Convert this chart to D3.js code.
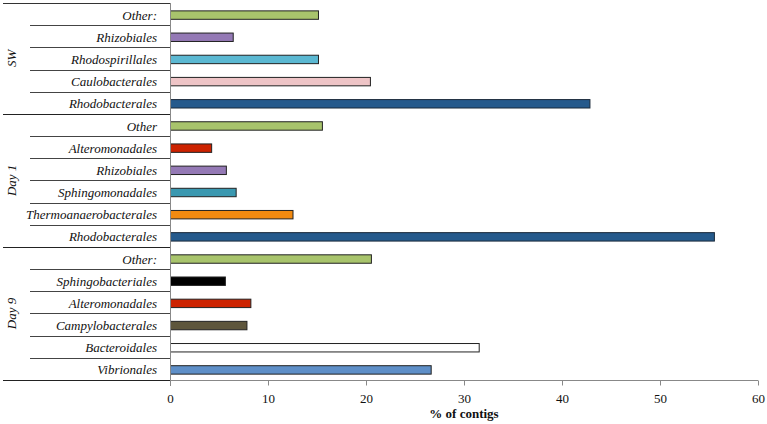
<!DOCTYPE html>
<html>
<head>
<meta charset="utf-8">
<script src="https://cdn.jsdelivr.net/npm/d3@7"></script>
<style>
  body { margin: 0; background: #fff; }
  svg { display: block; }
  text { font-family: "Liberation Serif", "DejaVu Serif", serif; }
</style>
</head>
<body>
<svg id="chart" width="767" height="424"></svg>
<script>
// ---- data ----
const groups = ["SW", "Day 1", "Day 9"];
const swCategories = ["Other:", "Rhizobiales", "Rhodospirillales", "Caulobacterales", "Rhodobacterales"];
const swValues = [15.1, 6.4, 15.1, 20.4, 42.8];
const day1Categories = ["Other", "Alteromonadales", "Rhizobiales", "Sphingomonadales", "Thermoanaerobacterales", "Rhodobacterales"];
const day1Values = [15.5, 4.2, 5.7, 6.7, 12.5, 55.5];
const day9Categories = ["Other:", "Sphingobacteriales", "Alteromonadales", "Campylobacterales", "Bacteroidales", "Vibrionales"];
const day9Values = [20.5, 5.6, 8.2, 7.8, 31.5, 26.6];
const xTicks = [0, 10, 20, 30, 40, 50, 60];
const xTitle = "% of contigs";

// colours per taxon (styling)
const colorOf = {
  "Other": "#A8C46C", "Other:": "#A8C46C",
  "Rhizobiales": "#9479B5",
  "Rhodospirillales": "#5BB8D2",
  "Caulobacterales": "#EEC4C6",
  "Rhodobacterales": "#255A8C",
  "Alteromonadales": "#CC2200",
  "Sphingomonadales": "#3A98B0",
  "Thermoanaerobacterales": "#F28A10",
  "Sphingobacteriales": "#000000",
  "Campylobacterales": "#5E563C",
  "Bacteroidales": "#FFFFFF",
  "Vibrionales": "#5E8FC8"
};

const groupData = [
  { name: groups[0], cats: swCategories, vals: swValues },
  { name: groups[1], cats: day1Categories, vals: day1Values },
  { name: groups[2], cats: day9Categories, vals: day9Values }
];
const rows = [];
groupData.forEach((g, gi) => g.cats.forEach((c, i) => rows.push({ id: gi + "-" + i, group: g.name, gi, idx: i, n: g.cats.length, cat: c, val: g.vals[i] })));

// ---- layout ----
const svg = d3.select("#chart");
const mLeft = 170, mRight = 758, mTop = 3, mBottom = 380;
const x = d3.scaleLinear().domain([0, 60]).range([mLeft, mRight]);
const y = d3.scaleBand().domain(rows.map(r => r.id)).range([mTop, mBottom]).paddingInner(0.62).paddingOuter(0.31);
const step = y.step();

// separator lines in label area
const lineG = svg.append("g");
lineG.append("line").attr("x1", 3).attr("x2", mLeft).attr("y1", mTop + 0.5).attr("y2", mTop + 0.5)
  .attr("stroke", "#333").attr("stroke-width", 1);
rows.forEach((r, k) => {
  const yb = mTop + (k + 1) * step;
  const isGroupEnd = r.idx === r.n - 1;
  if (k === rows.length - 1) return;
  lineG.append("line")
    .attr("x1", isGroupEnd ? 3 : 30).attr("x2", mLeft)
    .attr("y1", Math.round(yb) + 0.5).attr("y2", Math.round(yb) + 0.5)
    .attr("stroke", isGroupEnd ? "#222" : "#444").attr("stroke-width", 1);
});

// bars
svg.append("g").selectAll("rect").data(rows).join("rect")
  .attr("x", x(0) + 0.5)
  .attr("y", d => y(d.id) + 1)
  .attr("width", d => x(d.val) - x(0))
  .attr("height", y.bandwidth())
  .attr("fill", d => colorOf[d.cat])
  .attr("stroke", d => d.cat === "Rhodobacterales" ? "#1a2a3a" : "#222")
  .attr("stroke-width", 1);

// category labels
svg.append("g").selectAll("text").data(rows).join("text")
  .attr("x", 157)
  .attr("y", d => y(d.id) + y.bandwidth() / 2 + 1)
  .attr("dy", "0.35em")
  .attr("text-anchor", "end")
  .attr("font-style", "italic")
  .attr("font-size", 13)
  .attr("fill", "#111")
  .text(d => d.cat);

// group labels
let start = 0;
groupData.forEach(g => {
  const y0 = mTop + start * step, y1 = mTop + (start + g.cats.length) * step;
  const cy = (y0 + y1) / 2;
  svg.append("text")
    .attr("transform", `translate(16,${cy}) rotate(-90)`)
    .attr("text-anchor", "middle")
    .attr("font-style", "italic")
    .attr("font-size", 13)
    .attr("fill", "#111")
    .text(g.name);
  start += g.cats.length;
});

// y axis line
svg.append("line").attr("x1", mLeft + 0.5).attr("x2", mLeft + 0.5).attr("y1", mTop).attr("y2", mBottom + 6)
  .attr("stroke", "#888").attr("stroke-width", 1);

// x axis
const xAxis = d3.axisBottom(x).tickValues(xTicks).tickSize(5).tickFormat(d3.format("d"));
const axG = svg.append("g").attr("transform", `translate(0,${mBottom + 0.5})`).call(xAxis);
axG.attr("font-family", null);
axG.select(".domain").remove();
axG.selectAll(".tick line").attr("stroke", "#888");
axG.selectAll(".tick text")
  .style("font-family", "'Liberation Serif', serif")
  .attr("font-size", 13).attr("fill", "#111").attr("dy", "1.1em");
svg.append("line").attr("x1", 3).attr("x2", mRight).attr("y1", mBottom + 0.5).attr("y2", mBottom + 0.5)
  .attr("stroke", "#888").attr("stroke-width", 1);
svg.append("line").attr("x1", 3).attr("x2", mLeft).attr("y1", mBottom + 0.5).attr("y2", mBottom + 0.5)
  .attr("stroke", "#222").attr("stroke-width", 1);

// x title
svg.append("text").attr("x", (mLeft + mRight) / 2).attr("y", 418)
  .attr("text-anchor", "middle").attr("font-weight", "bold").attr("font-size", 13).attr("fill", "#111")
  .text(xTitle);
</script>
</body>
</html>
